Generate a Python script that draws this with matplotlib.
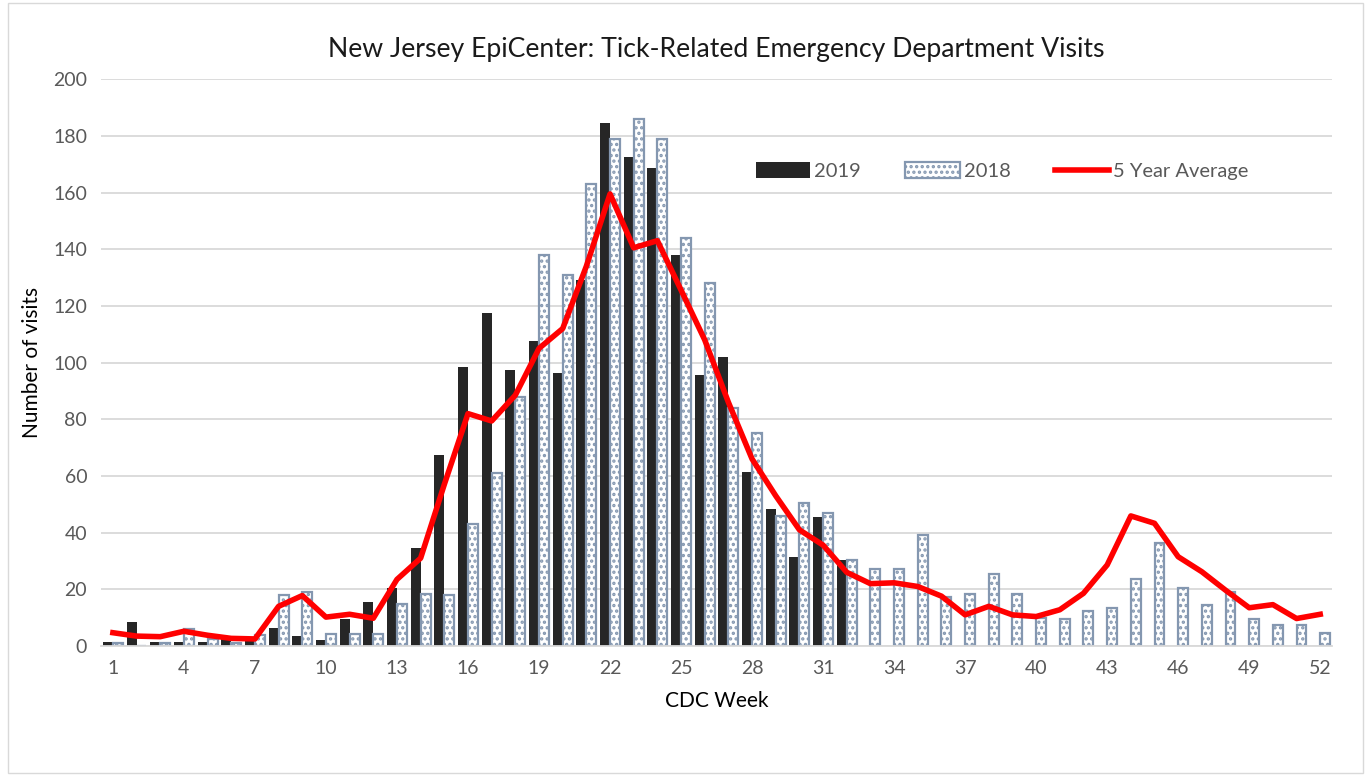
#!/usr/bin/env python3
"""Tick-related ED visits in New Jersey by CDC week: 2019, 2018 and 5 year average."""

import matplotlib
matplotlib.use('Agg')
from matplotlib import pyplot as plt
from matplotlib.patches import Rectangle
import numpy as np

plt.rcParams['hatch.color'] = '#8497b0'
plt.rcParams['hatch.linewidth'] = 1.6

WEEKS = list(range(1, 53))

VISITS_2019 = [1.5, 8.3, 1.5, 1.5, 1.5, 3.5, 3, 6.5, 3.5, 2.3,
               9.5, 15.5, 20.5, 34.5, 67.5, 98.5, 117.5, 97.5, 107.5, 96.5,
               129, 184.5, 172.5, 168.5, 138, 95.5, 102, 61.5, 48.5, 31.5,
               45.5, 30.5]

VISITS_2018 = [1, 0, 1, 6, 2.5, 1.2, 4, 18, 19, 4.2,
               4.2, 4.2, 15, 18.3, 18, 43, 61, 88, 138, 131,
               163, 179, 186, 179, 144, 128, 84, 75, 46, 50.4,
               47, 30.2, 27, 27, 39, 17.3, 18.3, 25.3, 18.3, 9.9,
               9.5, 12.3, 13.4, 23.6, 36.4, 20.4, 14.4, 19, 9.5, 7.4,
               7.4, 4.5]

FIVE_YEAR_AVG = [4.7, 3.5, 3.3, 5.2, 3.8, 2.7, 2.5, 14, 17.8, 10.2,
                 11.2, 9.8, 23.5, 31, 57, 82, 79.4, 88.5, 105, 112,
                 134, 159.5, 140.5, 143, 125.6, 108, 86, 66, 53, 41,
                 35.6, 26, 22, 22.3, 21, 17.6, 11, 14, 11, 10.4,
                 12.8, 18.6, 28.6, 45.9, 43.3, 31.5, 26.2, 19.7, 13.5, 14.6,
                 9.7, 11.2]

XTICKS = list(range(1, 53, 3))
YTICKS = list(range(0, 201, 20))


def main():
    """Draw the bars and the average line."""
    plt.rcParams['font.family'] = ['Lato', 'DejaVu Sans']
    fig = plt.figure(figsize=(13.71, 7.76), dpi=100)
    ax = fig.add_axes([0.0737, 0.1675, 0.8979, 0.7305])

    width = 0.42
    x19 = np.array(WEEKS[:len(VISITS_2019)])
    x18 = np.array(WEEKS)
    b19 = ax.bar(x19 - width / 2, VISITS_2019, width, color='#262626',
                 label='2019', zorder=2)
    b18 = ax.bar(x18 + width / 2, VISITS_2018, width, facecolor='white',
                 edgecolor='#8497b0', linewidth=1.6, hatch='...',
                 label='2018', zorder=2)
    avg, = ax.plot(WEEKS, FIVE_YEAR_AVG, color='#ff0000', linewidth=4,
                   label='5 Year Average', zorder=3)

    ax.set_xlim(0.5, 52.5)
    ax.set_ylim(0, 200)
    ax.set_xticks(XTICKS)
    ax.set_yticks(YTICKS)
    ax.tick_params(length=0, labelsize=14, colors='#595959', pad=10)
    ax.grid(axis='y', color='#d9d9d9', linewidth=1.3, zorder=0)
    ax.set_axisbelow(True)
    for side in ('left', 'right', 'top'):
        ax.spines[side].set_visible(False)
    ax.spines['bottom'].set_color('#d9d9d9')
    ax.spines['bottom'].set_linewidth(1.3)

    ax.set_title('New Jersey EpiCenter: Tick-Related Emergency Department Visits',
                 fontsize=19.2, color='#1a1a1a', pad=16)
    ax.set_xlabel('CDC Week', fontsize=15, labelpad=10)
    ax.set_ylabel('Number of visits', fontsize=15, labelpad=8)

    ax.legend([b19, b18, avg], ['2019', '2018', '5 Year Average'],
              loc='center', bbox_to_anchor=(0.731, 0.7796),
              bbox_transform=fig.transFigure, ncol=3, frameon=False,
              fontsize=14.5, handlelength=2.7, handleheight=0.8,
              columnspacing=2.2, handletextpad=0.2, labelcolor='#595959')

    fig.patches.append(Rectangle((0.006, 0.004), 0.988, 0.992,
                                 transform=fig.transFigure, fill=False,
                                 edgecolor='#d9d9d9', linewidth=1))
    fig.savefig('out.png')


if __name__ == '__main__':
    main()
